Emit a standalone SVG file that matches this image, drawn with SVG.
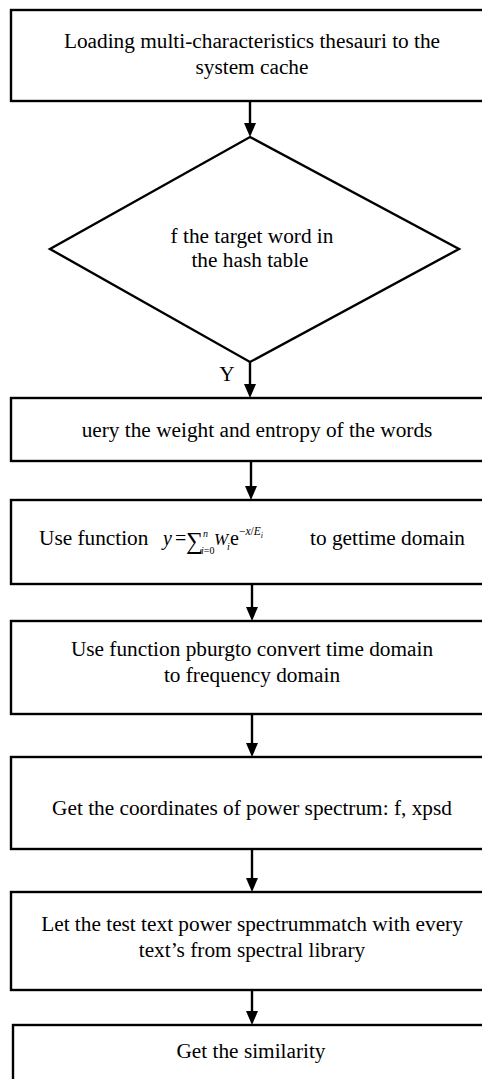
<svg xmlns="http://www.w3.org/2000/svg" width="482" height="1079" viewBox="0 0 482 1079">
  <style>
    .shape { fill: #ffffff; stroke: #000000; stroke-width: 2.4; }
    .flow { stroke: #000000; stroke-width: 2.4; fill: none; marker-end: url(#arrow); }
    .label { font-family: "Liberation Serif", "Times New Roman", serif; font-size: 21.3px; fill: #000000; text-anchor: middle; }
    .math { font-family: "Liberation Serif", "Times New Roman", serif; fill: #000000; }
    .it { font-style: italic; }
  </style>
  <defs>
    <marker id="arrow" viewBox="0 0 14 12" refX="8" refY="6" markerWidth="14" markerHeight="12" markerUnits="userSpaceOnUse" orient="auto">
      <path d="M0,0 L14,6 L0,12 Z" fill="#000000"/>
    </marker>
  </defs>

  <rect width="482" height="1079" fill="#ffffff"/>

  <!-- connectors -->
  <g id="connectors">
    <line class="flow" x1="250" y1="101" x2="250" y2="131"/>
    <line class="flow" x1="250" y1="362" x2="250" y2="392"/>
    <text class="label" x="227" y="381">Y</text>
    <line class="flow" x1="251" y1="461" x2="251" y2="494"/>
    <line class="flow" x1="252" y1="584" x2="252" y2="615"/>
    <line class="flow" x1="252" y1="714" x2="252" y2="751"/>
    <line class="flow" x1="252" y1="849" x2="252" y2="886"/>
    <line class="flow" x1="252" y1="990" x2="252" y2="1019"/>
  </g>

  <!-- load thesauri -->
  <g id="load">
    <rect class="shape" x="11" y="10" width="480" height="91"/>
    <text class="label" x="252" y="48">Loading multi-characteristics thesauri to the</text>
    <text class="label" x="252" y="74">system cache</text>
  </g>

  <!-- decision -->
  <g id="decision">
    <polygon class="shape" points="250,137 459,249 250,362 50,249"/>
    <text class="label" x="252" y="243">f the target word in</text>
    <text class="label" x="250" y="267">the hash table</text>
  </g>

  <!-- query weight and entropy -->
  <g id="query">
    <rect class="shape" x="11" y="398" width="480" height="63"/>
    <text class="label" x="257" y="437">uery the weight and entropy of the words</text>
  </g>

  <!-- time domain function: y = sum_{i=0}^{n} W_i e^{-x/E_i} -->
  <g id="timedomain">
    <rect class="shape" x="11" y="500" width="480" height="84"/>
    <text class="math" x="39" y="545" font-size="21.3">Use function</text>
    <text class="math" font-size="20"><tspan class="it" x="163" y="545">y</tspan><tspan x="175" y="545">=</tspan><tspan x="186" y="549" font-size="24">∑</tspan><tspan class="it" x="203" y="537" font-size="10">n</tspan><tspan class="it" x="201" y="554" font-size="10">i</tspan><tspan font-size="10">=0</tspan><tspan class="it" x="214" y="545" font-size="17">W</tspan><tspan class="it" x="227" y="550" font-size="10">i</tspan><tspan x="230" y="545">e</tspan><tspan x="239" y="535" font-size="11.5">−</tspan><tspan class="it" font-size="11.5">x</tspan><tspan font-size="11.5">/</tspan><tspan class="it" font-size="11.5">E</tspan><tspan class="it" y="538" font-size="8">i</tspan></text>
    <text class="math" x="310" y="545" font-size="21.3">to gettime domain</text>
  </g>

  <!-- pburg conversion -->
  <g id="pburg">
    <rect class="shape" x="11" y="621" width="480" height="93"/>
    <text class="label" x="252" y="656">Use function pburgto convert time domain</text>
    <text class="label" x="252" y="682">to frequency domain</text>
  </g>

  <!-- power spectrum coordinates -->
  <g id="coords">
    <rect class="shape" x="11" y="757" width="480" height="92"/>
    <text class="label" x="252" y="815">Get the coordinates of power spectrum: f, xpsd</text>
  </g>

  <!-- spectrum matching -->
  <g id="match">
    <rect class="shape" x="11" y="892" width="480" height="98"/>
    <text class="label" x="252" y="931">Let the test text power spectrummatch with every</text>
    <text class="label" x="252" y="957">text’s from spectral library</text>
  </g>

  <!-- similarity -->
  <g id="similarity">
    <rect class="shape" x="13" y="1025" width="480" height="80"/>
    <text class="label" x="251" y="1058">Get the similarity</text>
  </g>
</svg>
